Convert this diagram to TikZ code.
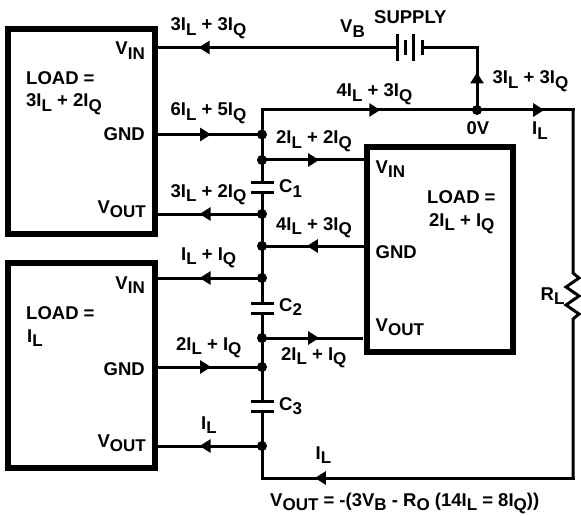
\documentclass[tikz,border=0pt]{standalone}
\usepackage{fontspec}
\setmainfont{Liberation Sans}
\usetikzlibrary{positioning, calc, arrows.meta, decorations.markings}
\newcommand{\subtx}[1]{\raisebox{-4.5pt}{\fontsize{17}{18}\selectfont #1}}
\begin{document}
\begin{tikzpicture}[x=1pt, y=1pt, on grid]
	% styles
	\tikzstyle{loadbox} = [rectangle, draw, line width=6pt, minimum width=147pt, minimum height=205pt]
	\tikzstyle{wire} = [line width=3pt, line cap=rect]
	\tikzstyle{dot} = [circle, fill, inner sep=0pt, minimum size=10pt]
	\tikzstyle{capgap} = [rectangle, inner sep=0pt, outer sep=0pt, minimum width=20pt, minimum height=10pt]
	\tikzstyle{lbl} = [anchor=base west, inner sep=0pt, font=\bfseries\fontsize{18.5}{21}\selectfont]
	\tikzstyle{rbl} = [lbl, anchor=base east]
	\tikzset{flow/.style={postaction={decorate, decoration={markings, mark=at position #1 with {\arrow{Triangle[length=11pt, width=13pt]}}}}}}

	\useasboundingbox (0,0) rectangle (581,-516);

	% load blocks
	\node [loadbox] (loadA) at (81.5,-131.5) {};
	\node [loadbox, below=234pt of loadA] (loadB) {};
	\node [loadbox, minimum width=146pt] (loadC) at (440,-249.5) {};

	% junctions on the bus
	\node [dot] (gndA) at (262,-134.5) {};
	\node [dot, below=25.5pt of gndA] (vinC) {};
	\node [capgap, below=27pt of vinC] (capA) {};
	\node [dot, below=27pt of capA] (voutA) {};
	\node [dot, below=32pt of voutA] (gndC) {};
	\node [dot, below=32pt of gndC] (vinB) {};
	\node [capgap, below=30.5pt of vinB] (capB) {};
	\node [dot, below=29.5pt of capB] (voutC) {};
	\node [dot, below=29pt of voutC] (gndB) {};
	\node [capgap, below=39.5pt of gndB] (capC) {};
	\node [dot, below=39.5pt of capC] (voutB) {};

	% supply and outer loop
	\node [dot] (zero) at (477,-110) {};
	\coordinate (busTop) at (262,-110);
	\coordinate (busEnd) at (262,-478);
	\coordinate (cornerT) at (573,-110);
	\coordinate (cornerB) at (573,-478);
	\coordinate (rTop) at (573,-273);
	\coordinate (rBot) at (573,-319);
	\coordinate (batL) at (397,-47.5);
	\coordinate (batR) at (422,-47.5);
	\coordinate (batC) at (477,-47.5);

	% bus
	\draw [wire] (busTop) -- (vinC.center) -- (capA.north);
	\draw [wire] (capA.south) -- (voutA.center) -- (vinB.center) -- (capB.north);
	\draw [wire] (capB.south) -- (voutC.center) -- (gndB.center) -- (capC.north);
	\draw [wire] (capC.south) -- (busEnd);
	\draw [wire] (capA.north west) -- (capA.north east);
	\draw [wire] (capA.south west) -- (capA.south east);
	\draw [wire] (capB.north west) -- (capB.north east);
	\draw [wire] (capB.south west) -- (capB.south east);
	\draw [wire] (capC.north west) -- (capC.north east);
	\draw [wire] (capC.south west) -- (capC.south east);

	% wires to the blocks
	\draw [wire, flow=0.83] (batL) -- (loadA.east |- batL);
	\draw [wire, flow=0.51] (loadA.east |- gndA) -- (gndA.center);
	\draw [wire, flow=0.6] (voutA.center) -- (loadA.east |- voutA);
	\draw [wire, flow=0.6] (vinB.center) -- (loadB.east |- vinB);
	\draw [wire, flow=0.51] (loadB.east |- gndB) -- (gndB.center);
	\draw [wire, flow=0.6] (voutB.center) -- (loadB.east |- voutB);
	\draw [wire, flow=0.56] (vinC.center) -- (loadC.west |- vinC);
	\draw [wire, flow=0.56] (loadC.west |- gndC) -- (gndC.center);
	\draw [wire, flow=0.56, shorten >=3pt] (voutC.center) -- (loadC.west |- voutC);

	% battery
	\draw [wire] (batL) ++(0,12) -- ++(0,-24);
	\draw [wire] (batL) ++(8,6) -- ++(0,-12);
	\draw [wire] (batL) ++(16,12) -- ++(0,-24);
	\draw [wire] (batR) ++(0,6) -- ++(0,-12);
	\draw [wire] (batR) -- (batC);
	\draw [wire, flow=0.6] (zero.center) -- (batC);

	% load resistor loop
	\draw [wire, flow=0.55] (busTop) -- (zero.center);
	\draw [wire, flow=0.7] (zero.center) -- (cornerT);
	\draw [wire] (cornerT) -- (rTop) -- ++(6,-5) -- ++(-13,-9) -- ++(13,-9) -- ++(-13,-9) -- ++(13,-9) -- (rBot) -- (cornerB);
	\draw [wire, flow=0.83] (cornerB) -- (busEnd);

	% block texts
	\node [rbl] (vinAtxt) at (145,-55) {V\subtx{IN}};
	\node [lbl] (loadAtxt) at (26,-85) {LOAD =};
	\node [lbl] (loadAval) at (26,-107) {3I\subtx{L} + 2I\subtx{Q}};
	\node [rbl] (gndAtxt) at (145,-141) {GND};
	\node [rbl] (voutAtxt) at (146,-213) {V\subtx{OUT}};
	\node [rbl] (vinBtxt) at (145,-289) {V\subtx{IN}};
	\node [lbl] (loadBtxt) at (26,-319) {LOAD =};
	\node [lbl] (loadBval) at (27,-342) {I\subtx{L}};
	\node [rbl] (gndBtxt) at (145,-375) {GND};
	\node [rbl] (voutBtxt) at (146,-447) {V\subtx{OUT}};
	\node [lbl] (vinCtxt) at (375.5,-173) {V\subtx{IN}};
	\node [lbl] (loadCtxt) at (427,-204) {LOAD =};
	\node [lbl] (loadCval) at (429,-226) {2I\subtx{L} + I\subtx{Q}};
	\node [lbl] (gndCtxt) at (375.5,-258) {GND};
	\node [lbl] (voutCtxt) at (375.5,-331) {V\subtx{OUT}};

	% current labels
	\node [lbl] (iVinA) at (170.5,-31) {3I\subtx{L} + 3I\subtx{Q}};
	\node [lbl] (iGndA) at (170.5,-116) {6I\subtx{L} + 5I\subtx{Q}};
	\node [lbl] (iVoutA) at (170.5,-197) {3I\subtx{L} + 2I\subtx{Q}};
	\node [lbl] (iVinB) at (181,-260) {I\subtx{L} + I\subtx{Q}};
	\node [lbl] (iGndB) at (176,-350) {2I\subtx{L} + I\subtx{Q}};
	\node [lbl] (iVoutB) at (201,-429) {I\subtx{L}};
	\node [lbl] (iVinC) at (276,-144) {2I\subtx{L} + 2I\subtx{Q}};
	\node [lbl] (iGndC) at (276,-230) {4I\subtx{L} + 3I\subtx{Q}};
	\node [lbl] (iVoutC) at (281,-360) {2I\subtx{L} + I\subtx{Q}};
	\node [lbl] (iTop) at (336.5,-97) {4I\subtx{L} + 3I\subtx{Q}};
	\node [lbl] (iBat) at (492.5,-84) {3I\subtx{L} + 3I\subtx{Q}};
	\node [lbl] (iLoad) at (532,-135) {I\subtx{L}};
	\node [lbl] (iBack) at (315.5,-459) {I\subtx{L}};

	% other labels
	\node [lbl] (capAtxt) at (279,-193) {C\subtx{1}};
	\node [lbl] (capBtxt) at (279,-311) {C\subtx{2}};
	\node [lbl] (capCtxt) at (279,-410) {C\subtx{3}};
	\node [lbl] (vbTxt) at (340,-33) {V\subtx{B}};
	\node [lbl] (supplyTxt) at (374,-24) {SUPPLY};
	\node [lbl] (zeroTxt) at (466.5,-135) {0V};
	\node [lbl] (rlTxt) at (540.5,-300) {R\subtx{L}};
	\node [lbl] (voutEq) at (270,-506) {V\subtx{OUT} = -(3V\subtx{B} - R\subtx{O} (14I\subtx{L} = 8I\subtx{Q}))};
\end{tikzpicture}
\end{document}
